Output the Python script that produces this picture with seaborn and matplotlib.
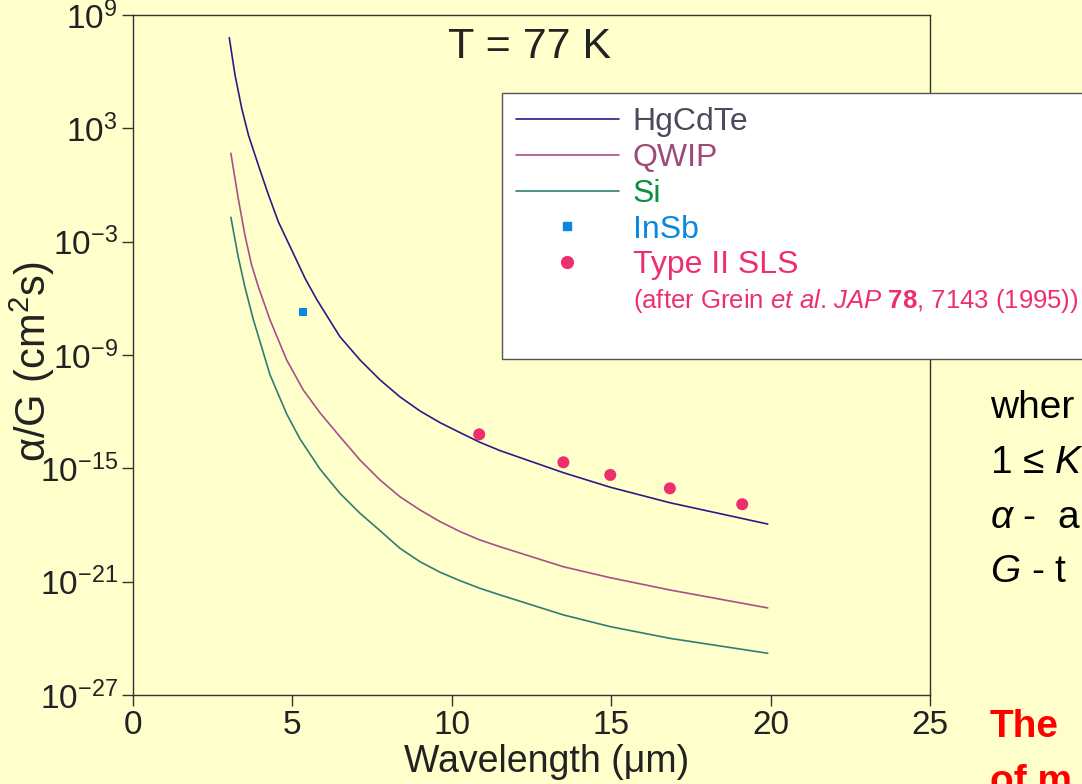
import numpy as np
import pandas as pd
import seaborn as sns
import matplotlib.pyplot as plt
from matplotlib.lines import Line2D

# values: wavelength (um) and log10(alpha/G) in cm^2 s
hgcdte_wl = [3.02, 3.20, 3.41, 3.62, 3.93, 4.24, 4.56, 4.98, 5.40, 5.76, 6.49, 7.12, 7.75, 8.37,
             9.00, 9.63, 10.26, 10.88, 11.51, 13.50, 14.97, 16.84, 19.91]
hgcdte_exp = [7.80, 5.82, 4.06, 2.65, 1.06, -0.48, -1.95, -3.45, -4.95, -6.05, -8.03, -9.26, -10.32, -11.21,
              -11.96, -12.58, -13.11, -13.62, -14.06, -15.23, -16.00, -16.82, -17.95]

qwip_wl = [3.07, 3.30, 3.51, 3.72, 3.93, 4.30, 4.82, 5.34, 5.87, 6.49, 7.12, 7.75, 8.37,
           9.00, 9.63, 10.26, 10.88, 11.51, 13.50, 14.97, 16.84, 19.91]
qwip_exp = [1.68, -0.70, -2.65, -4.23, -5.38, -7.15, -9.26, -10.85, -12.07, -13.32, -14.56, -15.62, -16.50,
            -17.20, -17.82, -18.35, -18.79, -19.15, -20.21, -20.79, -21.44, -22.39]

si_wl = [3.07, 3.30, 3.51, 3.77, 4.30, 4.82, 5.24, 5.87, 6.49, 7.12, 7.75, 8.37,
         9.00, 9.63, 10.26, 10.88, 11.51, 13.50, 14.97, 16.84, 19.91]
si_exp = [-1.71, -3.80, -5.40, -7.10, -10.06, -12.12, -13.45, -15.05, -16.32, -17.38, -18.30, -19.23,
          -19.94, -20.50, -20.95, -21.35, -21.70, -22.76, -23.38, -24.00, -24.79]

insb_wl = [5.34]
insb_exp = [-6.72]

sls_wl = [10.86, 13.50, 14.97, 16.84, 19.11]
sls_exp = [-13.2, -14.68, -15.35, -16.06, -16.9]

x_ticks = [0, 5, 10, 15, 20, 25]
y_tick_exp = [-27, -21, -15, -9, -3, 3, 9]

# colours
BG = '#FFFFCC'
c_hg = '#2E1A87'
c_qwip = '#A8508A'
c_si = '#2E7E74'
c_insb = '#0A88E0'
c_sls = '#EE2F6E'

# plot settings
sns.set_theme(style='ticks', rc={'axes.facecolor': BG, 'figure.facecolor': BG})
plt.rcParams['font.family'] = ['Liberation Sans', 'DejaVu Sans']
plt.rcParams['mathtext.fontset'] = 'custom'
plt.rcParams['mathtext.rm'] = 'Liberation Sans'
plt.rcParams['mathtext.it'] = 'Liberation Sans:italic'
plt.rcParams['mathtext.bf'] = 'Liberation Sans:bold'
plt.rcParams['axes.unicode_minus'] = False

curves = pd.concat([
    pd.DataFrame({'wl': hgcdte_wl, 'ratio': 10.0 ** np.array(hgcdte_exp), 'det': 'HgCdTe'}),
    pd.DataFrame({'wl': qwip_wl, 'ratio': 10.0 ** np.array(qwip_exp), 'det': 'QWIP'}),
    pd.DataFrame({'wl': si_wl, 'ratio': 10.0 ** np.array(si_exp), 'det': 'Si'}),
], ignore_index=True)
insb = pd.DataFrame({'wl': insb_wl, 'ratio': 10.0 ** np.array(insb_exp)})
sls = pd.DataFrame({'wl': sls_wl, 'ratio': 10.0 ** np.array(sls_exp)})

fig = plt.figure(figsize=(10.82, 7.84), dpi=100, facecolor=BG)
ax = fig.add_axes([133 / 1082, 1 - 695 / 784, 797 / 1082, 680 / 784])
ax.set_facecolor(BG)
ax.set_yscale('log')

sns.lineplot(data=curves, x='wl', y='ratio', hue='det', estimator=None, sort=False,
             palette={'HgCdTe': c_hg, 'QWIP': c_qwip, 'Si': c_si},
             linewidth=1.2, legend=False, ax=ax)
sns.scatterplot(data=insb, x='wl', y='ratio', marker='s', s=34, color=c_insb,
                edgecolor='none', legend=False, ax=ax)
sns.scatterplot(data=sls, x='wl', y='ratio', marker='o', s=75, color=c_sls,
                edgecolor='none', legend=False, ax=ax)

ax.set_xlim(0, 25)
ax.set_ylim(1e-27, 1e9)
ax.set_xticks(x_ticks)
ax.set_xticklabels([str(v) for v in x_ticks])
ax.set_yticks([10.0 ** e for e in y_tick_exp])
ax.set_yticklabels([r'$\mathdefault{10^{%d}}$' % e for e in y_tick_exp])
ax.minorticks_off()
ax.tick_params(axis='both', direction='out', length=8, width=1, color='#333333',
               labelsize=24, labelcolor='#222222', pad=3)
for sp in ax.spines.values():
    sp.set_visible(True)
    sp.set_color('#333333')
    sp.set_linewidth(1.0)

ax.set_xlabel('')
ax.set_ylabel('')
fig.text(547 / 1082, 1 - 762 / 784, 'Wavelength (μm)', fontsize=27, color='#222222',
         ha='center', va='center')
fig.text(32 / 1082, 1 - 362 / 784, 'α/G (cm$^2$s)', rotation=90, fontsize=30,
         color='#222222', ha='center', va='center')
fig.text(530 / 1082, 1 - 47 / 784, 'T = 77 K', fontsize=31, color='#222222',
         ha='center', va='center')

# legend
handles = [
    Line2D([], [], color=c_hg, lw=1.2),
    Line2D([], [], color=c_qwip, lw=1.2),
    Line2D([], [], color=c_si, lw=1.2),
    Line2D([], [], marker='s', ls='none', color=c_insb, ms=6),
    Line2D([], [], marker='o', ls='none', color=c_sls, ms=8.5),
    Line2D([], [], ls='none'),
    Line2D([], [], ls='none'),
]
labels = ['HgCdTe', 'QWIP', 'Si', 'InSb', 'Type II SLS',
          r'(after Grein $\mathit{et\ al}$. $\mathit{JAP}$ $\mathbf{78}$, 7143 (1995))', ' ']
text_colors = ['#4A4A5C', '#9C4A78', '#0A8F45', '#0A88E0', c_sls, c_sls, c_sls]
leg = ax.legend(handles, labels, loc='upper left', bbox_to_anchor=(502 / 1082, 1 - 93 / 784),
                bbox_transform=fig.transFigure, borderaxespad=0, fontsize=23, handlelength=3.2,
                handletextpad=0.44, labelspacing=0.18, borderpad=0.45, frameon=True,
                fancybox=False, framealpha=1, facecolor='white', edgecolor='#555555')
leg.get_frame().set_linewidth(1.0)
for t, c in zip(leg.get_texts(), text_colors):
    t.set_color(c)
leg.get_texts()[5].set_fontsize(18.5)
leg.get_texts()[6].set_fontsize(2)

# slide text cut off at the right and bottom edges
for y, s in [(408, 'wher'), (463, '1 ≤ $K$'), (518, '$\\alpha$ -  a'), (572, '$G$ - t')]:
    fig.text(990 / 1082, 1 - y / 784, s, fontsize=28, color='black', ha='left', va='center')
for y, s in [(727, 'The'), (782, 'of m')]:
    fig.text(990 / 1082, 1 - y / 784, s, fontsize=28, color='#FF0000',
             fontweight='bold', ha='left', va='center')

fig.savefig('out.png', dpi=100, facecolor=BG)
